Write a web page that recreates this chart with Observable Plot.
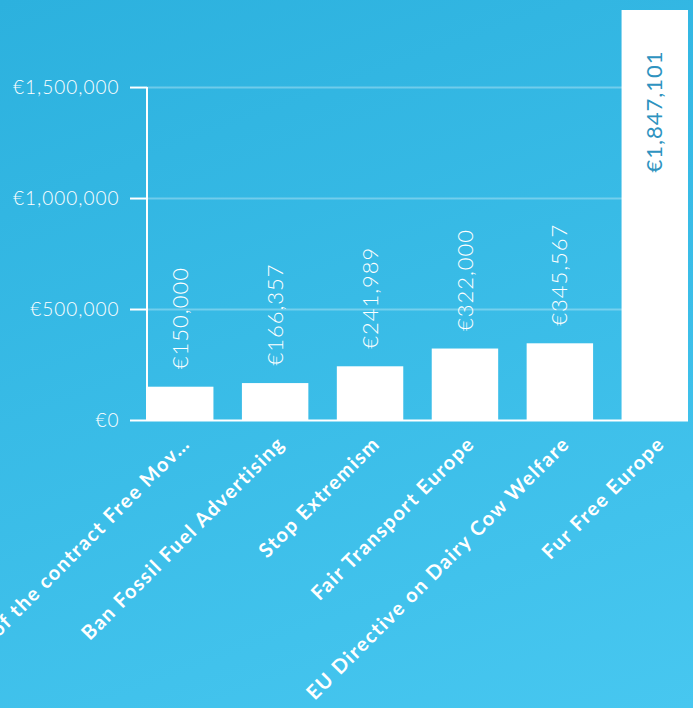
<!DOCTYPE html>
<html>
<head>
<meta charset="utf-8">
<script src="https://cdn.jsdelivr.net/npm/d3@7"></script>
<script src="https://cdn.jsdelivr.net/npm/@observablehq/plot@0.6"></script>
<style>
  html, body { margin: 0; padding: 0; width: 693px; height: 708px; overflow: hidden; }
  body { background: linear-gradient(160deg, #2cb1de 0%, #47c7f0 100%); }
  #chart svg { display: block; }
  #chart g[aria-label="x-axis tick label"] text { letter-spacing: 1.5px; }
  #chart g[aria-label="y-axis tick label"] text { letter-spacing: 1px; }
  #chart g.value-labels text { letter-spacing: 1px; }
</style>
</head>
<body>
<div id="chart"></div>
<script>
const campaigns = [
  "Termination of the contract Free Mov…",
  "Ban Fossil Fuel Advertising",
  "Stop Extremism",
  "Fair Transport Europe",
  "EU Directive on Dairy Cow Welfare",
  "Fur Free Europe"
];
const amounts = [150000, 166357, 241989, 322000, 345567, 1847101];
const yTicks = [0, 500000, 1000000, 1500000];

const data = campaigns.map((c, i) => ({campaign: c, amount: amounts[i]}));
const euro = d => "€" + d3.format(",")(d);
const insideThreshold = 1500000;

const yAxisLine = (index, scales, values, dims) => {
  const l = d3.create("svg:line")
    .attr("x1", dims.marginLeft).attr("x2", dims.marginLeft)
    .attr("y1", scales.y(0)).attr("y2", scales.y(yTicks[yTicks.length - 1]))
    .attr("stroke", "white").attr("stroke-width", 2);
  return l.node();
};

const chart = Plot.plot({
  width: 693,
  height: 708,
  marginLeft: 147,
  marginRight: 5,
  marginTop: 10,
  marginBottom: 288,
  style: {background: "transparent", fontFamily: "Lato, 'Open Sans', sans-serif", color: "white"},
  x: {domain: campaigns, paddingInner: 0.3, paddingOuter: 0, round: false, label: null},
  y: {domain: [0, d3.max(amounts)], label: null},
  marks: [
    Plot.gridY(yTicks.slice(1), {stroke: "white", strokeOpacity: 0.3, strokeWidth: 2}),
    Plot.barY(data, {x: "campaign", y: "amount", fill: "white"}),
    Plot.ruleY([0], {stroke: "white", strokeWidth: 2}),
    yAxisLine,
    Plot.axisY(yTicks, {
      tickFormat: euro, tickSize: 17, tickPadding: 11, label: null,
      stroke: "white", strokeWidth: 2, strokeOpacity: 1,
      fill: "white", fontSize: 19, fontWeight: 300
    }),
    Plot.axisX({
      tickRotate: -45, tickSize: 0, tickPadding: 12, dx: 6, dy: 8,
      fill: "white", fontSize: 20, fontWeight: "bold", label: null
    }),
    Plot.text(data.filter(d => d.amount < insideThreshold), {
      x: "campaign", y: "amount", text: d => euro(d.amount),
      rotate: -90, textAnchor: "start", lineAnchor: "middle", dy: -18,
      fill: "white", fontSize: 22, fontWeight: 300, className: "value-labels"
    }),
    Plot.text(data.filter(d => d.amount >= insideThreshold), {
      x: "campaign", y: "amount", text: d => euro(d.amount),
      rotate: -90, textAnchor: "end", lineAnchor: "middle", dy: 40,
      fill: "#2e93c0", fontSize: 22, fontWeight: 400, className: "value-labels"
    })
  ]
});
document.getElementById("chart").appendChild(chart);
</script>
</body>
</html>
